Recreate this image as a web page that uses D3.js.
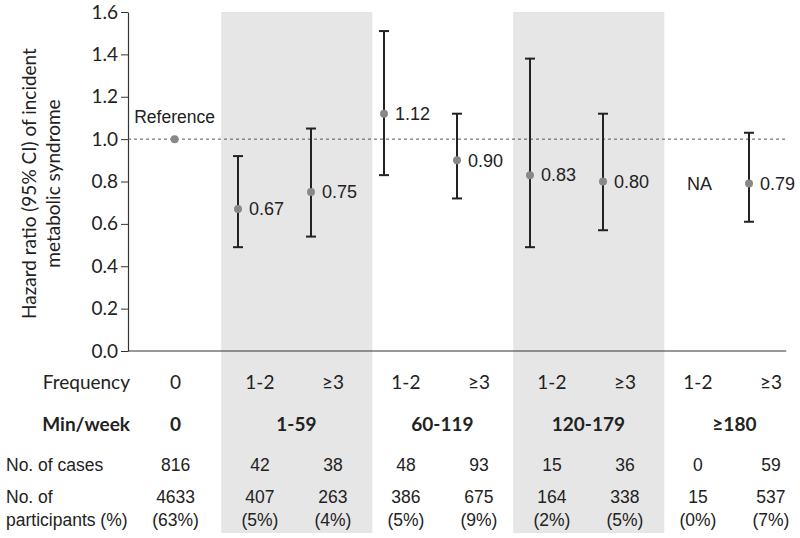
<!DOCTYPE html>
<html>
<head>
<meta charset="utf-8">
<script src="https://cdn.jsdelivr.net/npm/d3@7"></script>
<style>
  html, body { margin: 0; padding: 0; background: #fff; }
  svg { display: block; }
</style>
</head>
<body>
<svg id="chart" width="800" height="538"></svg>
<script>
// ---------------- data ----------------
const frequency    = ["0", "1-2", "≥3", "1-2", "≥3", "1-2", "≥3", "1-2", "≥3"];
const minWeek      = ["0", "1-59", "1-59", "60-119", "60-119", "120-179", "120-179", "≥180", "≥180"];
const minWeekGroups = ["0", "1-59", "60-119", "120-179", "≥180"];
const shadedGroups = ["1-59", "120-179"];
const hazardRatio  = [1.00, 0.67, 0.75, 1.12, 0.90, 0.83, 0.80, null, 0.79];
const ciLower      = [null, 0.49, 0.54, 0.83, 0.72, 0.49, 0.57, null, 0.61];
const ciUpper      = [null, 0.92, 1.05, 1.51, 1.12, 1.38, 1.12, null, 1.03];
const hrLabels     = ["Reference", "0.67", "0.75", "1.12", "0.90", "0.83", "0.80", "NA", "0.79"];
const cases        = ["816", "42", "38", "48", "93", "15", "36", "0", "59"];
const participants = ["4633", "407", "263", "386", "675", "164", "338", "15", "537"];
const percents     = ["(63%)", "(5%)", "(4%)", "(5%)", "(9%)", "(2%)", "(5%)", "(0%)", "(7%)"];
const yTicks       = [0.0, 0.2, 0.4, 0.6, 0.8, 1.0, 1.2, 1.4, 1.6];
const referenceValue = 1.0;

// ---------------- layout ----------------
const svg = d3.select("#chart");
const calibri = "Lato, 'Open Sans', sans-serif";
const arial = "'Liberation Sans', Arial, sans-serif";
const calSize = 19, arialSize = 17.5;

const axisX = 128;
const y = d3.scaleLinear().domain([0, 1.6]).range([351, 12]);
// slot scale: categories 1..8 are evenly spaced
const xs = d3.scaleLinear().domain([1, 8]).range([238, 749]);
const shadeLeftOff = -0.23, shadeRightOff = 0.84, tableOff = 0.3;
const refX = (axisX + xs(1 + shadeLeftOff)) / 2;
const ptX = i => i === 0 ? refX : xs(i);
const colX = i => i === 0 ? refX + 1 : xs(i + tableOff);
const xEnd = xs(8.51);

svg.append("rect").attr("width", 800).attr("height", 538).attr("fill", "#fff");

// shaded bands
shadedGroups.forEach(g => {
  const idx = minWeek.map((m, i) => m === g ? i : -1).filter(i => i >= 0);
  const x0 = xs(d3.min(idx) + shadeLeftOff);
  const x1 = xs(d3.max(idx) + shadeRightOff);
  svg.append("rect")
    .attr("x", x0).attr("y", 12)
    .attr("width", x1 - x0).attr("height", 533 - 12)
    .attr("fill", "#e6e6e6");
});

// y axis
const yAxis = d3.axisLeft(y).tickValues(yTicks).tickFormat(d3.format(".1f")).tickSize(7).tickPadding(3).tickSizeOuter(0);
const gy = svg.append("g").attr("transform", `translate(${axisX},0)`).call(yAxis);
gy.select(".domain").attr("stroke", "#333").attr("stroke-width", 1.2);
gy.selectAll(".tick line").attr("stroke", "#333");
gy.selectAll(".tick text").attr("font-family", calibri).attr("font-size", calSize).attr("fill", "#222");

// x baseline
svg.append("line")
  .attr("x1", axisX).attr("x2", xEnd)
  .attr("y1", y(0)).attr("y2", y(0))
  .attr("stroke", "#333").attr("stroke-width", 1.2);

// reference dashed line
svg.append("line")
  .attr("x1", axisX).attr("x2", xEnd)
  .attr("y1", y(referenceValue)).attr("y2", y(referenceValue))
  .attr("stroke", "#555").attr("stroke-width", 1).attr("stroke-dasharray", "3,3");

// y axis title
const title = svg.append("text")
  .attr("transform", `translate(36,${(y(0) + y(1.6)) / 2 + 2}) rotate(-90)`)
  .attr("text-anchor", "middle")
  .attr("font-family", calibri).attr("font-size", calSize).attr("fill", "#222");
title.append("tspan").attr("x", 0).attr("dy", 0).text("Hazard ratio (95% CI) of incident");
title.append("tspan").attr("x", 0).attr("dy", 24).text("metabolic syndrome");

// error bars
const idxAll = d3.range(hazardRatio.length);
const withCI = idxAll.filter(i => ciLower[i] != null);
const capW = 5;
const eb = svg.append("g").attr("stroke", "#222").attr("stroke-width", 2);
withCI.forEach(i => {
  const x = ptX(i);
  eb.append("line").attr("x1", x).attr("x2", x).attr("y1", y(ciLower[i])).attr("y2", y(ciUpper[i]));
  eb.append("line").attr("x1", x - capW).attr("x2", x + capW).attr("y1", y(ciLower[i])).attr("y2", y(ciLower[i]));
  eb.append("line").attr("x1", x - capW).attr("x2", x + capW).attr("y1", y(ciUpper[i])).attr("y2", y(ciUpper[i]));
});

// points
svg.append("g").selectAll("circle")
  .data(idxAll.filter(i => hazardRatio[i] != null))
  .join("circle")
  .attr("cx", i => ptX(i)).attr("cy", i => y(hazardRatio[i]))
  .attr("r", 4).attr("fill", "#888");

// value labels
idxAll.forEach(i => {
  if (i === 0) {
    svg.append("text").attr("x", ptX(0)).attr("y", y(hazardRatio[0]) - 16)
      .attr("text-anchor", "middle")
      .attr("font-family", arial).attr("font-size", arialSize).attr("fill", "#222")
      .text(hrLabels[0]);
  } else {
    const v = hazardRatio[i] != null ? hazardRatio[i] : hazardRatio[i + 1];
    svg.append("text").attr("x", ptX(i) + 11).attr("y", y(v))
      .attr("dy", "0.35em")
      .attr("font-family", arial).attr("font-size", 18).attr("fill", "#222")
      .text(hrLabels[i]);
  }
});

// ---------------- table ----------------
const rowFreqY = 382, rowMinY = 424, rowCasesY = 465, rowPartY = 497, rowPctY = 520;
const labelRight = 130, labelLeft = 6;

svg.append("text").attr("x", labelRight).attr("y", rowFreqY).attr("dy", "0.35em")
  .attr("text-anchor", "end").attr("font-family", calibri).attr("font-size", calSize).attr("fill", "#222")
  .text("Frequency");
svg.append("text").attr("x", labelRight).attr("y", rowMinY).attr("dy", "0.35em")
  .attr("text-anchor", "end").attr("font-family", calibri).attr("font-weight", "bold").attr("font-size", calSize).attr("fill", "#222")
  .text("Min/week");
svg.append("text").attr("x", labelLeft).attr("y", rowCasesY).attr("dy", "0.35em")
  .attr("font-family", arial).attr("font-size", arialSize).attr("fill", "#222")
  .text("No. of cases");
svg.append("text").attr("x", labelLeft).attr("y", rowPartY).attr("dy", "0.35em")
  .attr("font-family", arial).attr("font-size", arialSize).attr("fill", "#222")
  .text("No. of");
svg.append("text").attr("x", labelLeft).attr("y", rowPctY).attr("dy", "0.35em")
  .attr("font-family", arial).attr("font-size", arialSize).attr("fill", "#222")
  .text("participants (%)");

const cell = (x, yy, txt, font, bold, size) => svg.append("text")
  .attr("x", x).attr("y", yy).attr("dy", "0.35em").attr("text-anchor", "middle")
  .attr("font-family", font).attr("font-weight", bold ? "bold" : "normal")
  .attr("font-size", size).attr("fill", "#222").text(txt);

idxAll.forEach(i => {
  cell(colX(i), rowFreqY, frequency[i], calibri, false, calSize);
  cell(colX(i), rowCasesY, cases[i], arial, false, arialSize);
  cell(colX(i), rowPartY, participants[i], arial, false, arialSize);
  cell(colX(i), rowPctY, percents[i], arial, false, arialSize);
});
minWeekGroups.forEach(g => {
  const idx = minWeek.map((m, i) => m === g ? i : -1).filter(i => i >= 0);
  const cx = d3.mean(idx.map(colX));
  cell(cx, rowMinY, g, calibri, true, calSize);
});
</script>
</body>
</html>
